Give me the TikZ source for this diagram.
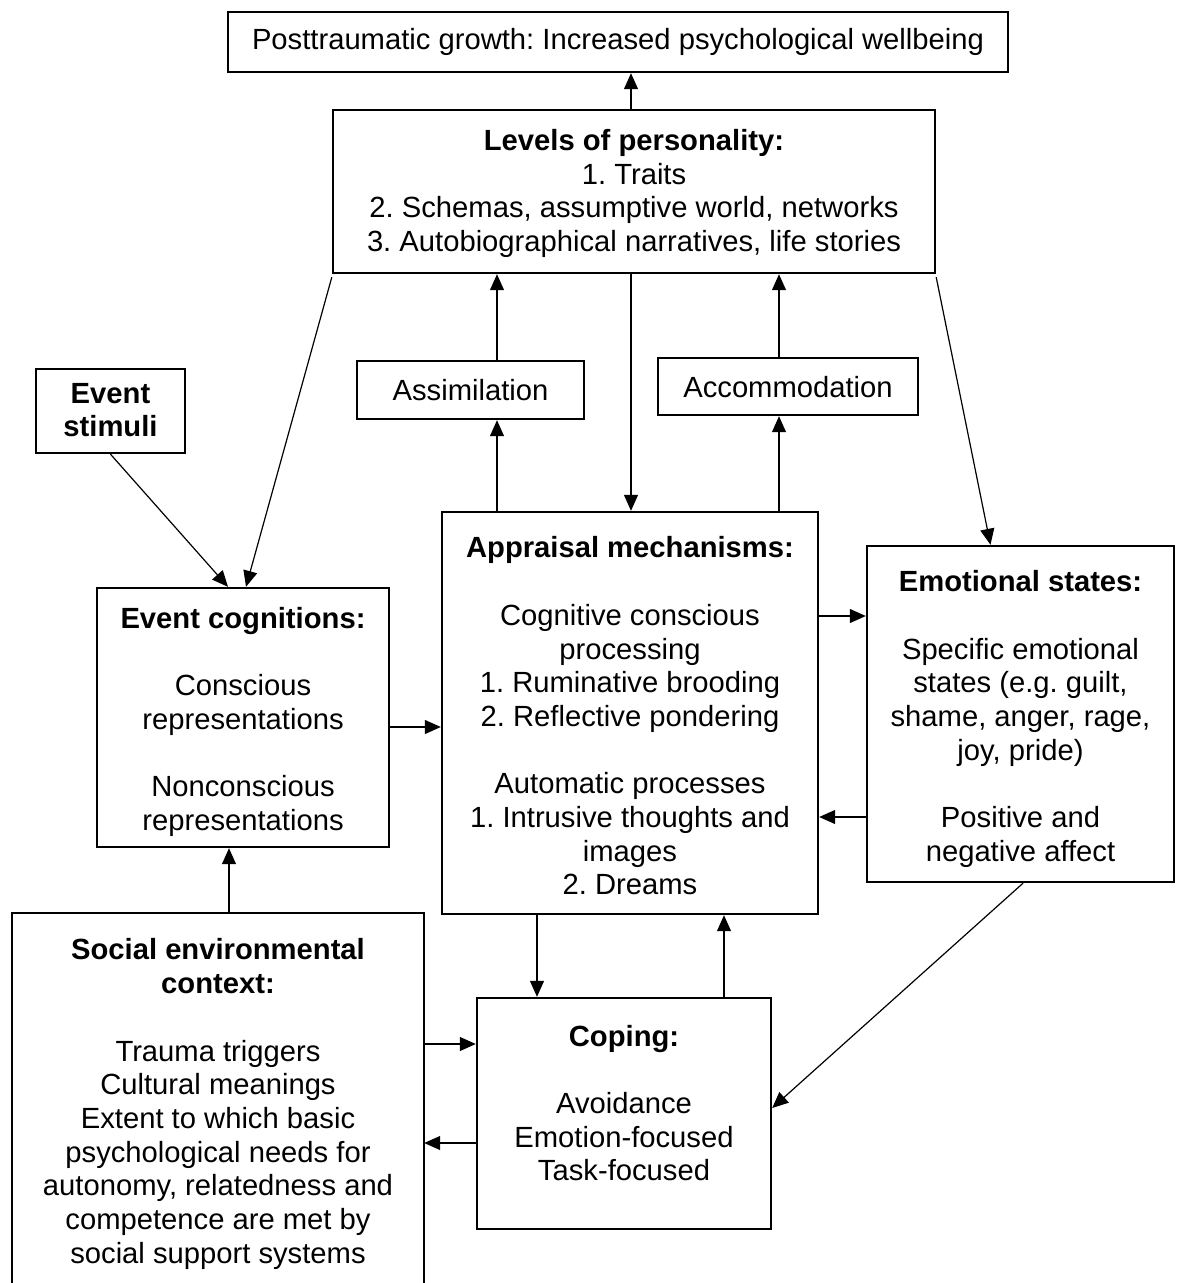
\documentclass[tikz,border=0pt]{standalone}
\usepackage{fontspec}
\setmainfont{Liberation Sans}
\usetikzlibrary{arrows.meta,calc}

\tikzset{
  box/.style={draw, line width=2.4pt, inner sep=0pt},
  frame/.style={inner sep=0pt},
  txt/.style={align=center, inner sep=0pt, font=\fontsize{29.2}{33.7}\selectfont\frenchspacing},
  arr/.style={line width=1.2pt, -{Triangle[length=16pt,width=14pt]}},
}

\begin{document}
\begin{tikzpicture}[x=1pt, y=-1pt]
\useasboundingbox (0,0) rectangle (1179,1283);

% ---- boxes ----
\node[box, minimum width=780, minimum height=60]  (post) at (618,42) {};
\node[box, minimum width=602, minimum height=163] (lev)  at (634,191.5) {};
\node[box, minimum width=149, minimum height=84]  (es)   at (110.5,411) {};
\node[box, minimum width=227, minimum height=58]  (asm)  at (470.5,390) {};
\node[box, minimum width=260, minimum height=57]  (acc)  at (788,386.5) {};
\node[box, minimum width=292, minimum height=259] (ec)   at (243,717.5) {};
\node[box, minimum width=376, minimum height=402] (app)  at (630,713) {};
\node[box, minimum width=307, minimum height=336] (emo)  at (1020.5,714) {};
\node[box, minimum width=294, minimum height=231] (cop)  at (624,1113.5) {};
\node[frame, minimum width=412, minimum height=380] (soc) at (218,1103) {};
\draw[line width=2.4pt] (soc.south west) -- (soc.north west) -- (soc.north east) -- (soc.south east);

% ---- texts ----
\node[txt] (post-t) at (618,42) {Posttraumatic growth: Increased psychological wellbeing};
\node[txt] (lev-t) at (634,193.5) {\textbf{Levels of personality:}\\1. Traits\\2. Schemas, assumptive world, networks\\3. Autobiographical narratives, life stories};
\node[txt] (es-t) at (110.5,410) {\textbf{Event}\\\textbf{stimuli}};
\node[txt] (asm-t) at (470.5,390) {Assimilation};
\node[txt] (acc-t) at (788,387) {Accommodation};
\node[txt] (ec-t) at (243,722) {\textbf{Event cognitions:}\\[33.7pt]Conscious\\representations\\[33.7pt]Nonconscious\\representations};
\node[txt] (app-t) at (630,716) {\textbf{Appraisal mechanisms:}\\[33.7pt]Cognitive conscious\\processing\\1. Ruminative brooding\\2. Reflective pondering\\[33.7pt]Automatic processes\\1. Intrusive thoughts and\\images\\2. Dreams};
\node[txt] (emo-t) at (1020.5,719) {\textbf{Emotional states:}\\[33.7pt]Specific emotional\\states (e.g. guilt,\\shame, anger, rage,\\joy, pride)\\[33.7pt]Positive and\\negative affect};
\node[txt] (soc-t) at (218,1104) {\textbf{Social environmental}\\\textbf{context:}\\[33.7pt]Trauma triggers\\Cultural meanings\\Extent to which basic\\psychological needs for\\autonomy, relatedness and\\competence are met by\\social support systems};
\node[txt] (cop-t) at (624,1103) {\textbf{Coping:}\\[33.7pt]Avoidance\\Emotion-focused\\Task-focused};

% ---- connectors ----
\draw[arr] (lev.north -| post.south) ++(13,0) coordinate (lp) -- (lp |- post.south);
\draw[arr] ([xshift=26.5pt]asm.north) -- ([xshift=26.5pt]asm.north |- lev.south);
\draw[arr] ([xshift=-9pt]acc.north) -- ([xshift=-9pt]acc.north |- lev.south);
\draw[arr] ([xshift=-3pt]lev.south) -- ([xshift=-3pt]lev.south |- app.north);
\draw[arr] ([xshift=26.5pt]asm.north |- app.north) -- ([xshift=26.5pt]asm.south);
\draw[arr] ([xshift=-9pt]acc.north |- app.north) -- ([xshift=-9pt]acc.south);
\draw[arr] ([yshift=-3pt]lev.south west) -- ([xshift=3pt]ec.north);
\draw[arr] (es.south) -- ([xshift=-15pt]ec.north);
\draw[arr] ([yshift=-3pt]lev.south east) -- ([xshift=-30pt]emo.north);
\draw[arr] ([yshift=-9.5pt]ec.east) -- ([yshift=-9.5pt]ec.east -| app.west);
\draw[arr] ([yshift=97pt]app.east) -- ([yshift=97pt]app.east -| emo.west);
\draw[arr] ([yshift=-103pt]emo.west) -- ([yshift=-103pt]emo.west -| app.east);
\draw[arr] ([xshift=11pt]soc.north) -- ([xshift=11pt]soc.north |- ec.south);
\draw[arr] ([xshift=-93pt]app.south) -- ([xshift=-93pt]app.south |- cop.north);
\draw[arr] ([xshift=100pt]cop.north) -- ([xshift=100pt]cop.north |- app.south);
\draw[arr] ([xshift=2.5pt]emo.south) -- ([yshift=5.5pt]cop.east);
\draw[arr] (soc.east |- 0,1044) coordinate (s1) -- (s1 -| cop.west);
\draw[arr] (cop.west |- 0,1143) coordinate (c1) -- (c1 -| soc.east);
\end{tikzpicture}
\end{document}
